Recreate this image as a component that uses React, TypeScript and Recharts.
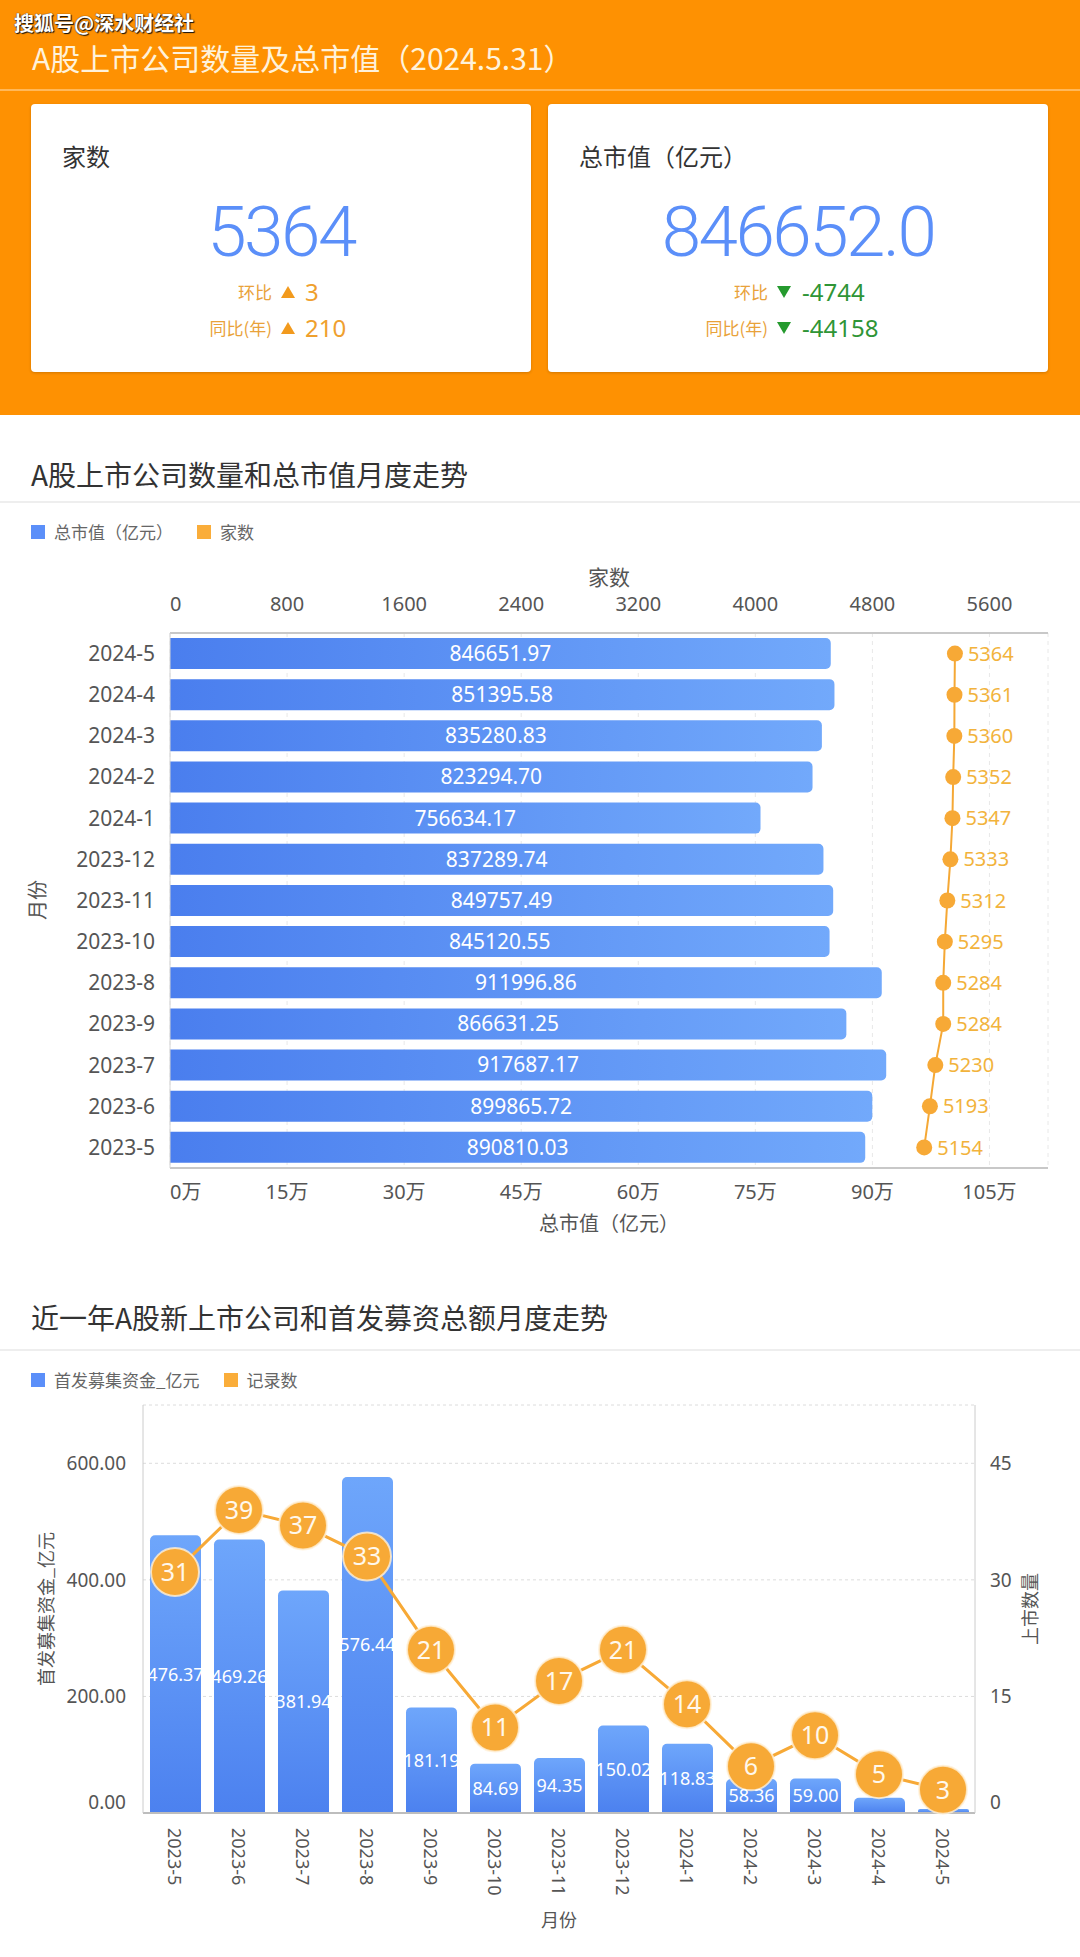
import React from 'react';
import { ComposedChart, Bar, Line, XAxis, YAxis, CartesianGrid, LabelList } from 'recharts';

// ---------- data ----------
const monthsA = ['2024-5', '2024-4', '2024-3', '2024-2', '2024-1', '2023-12', '2023-11', '2023-10', '2023-8', '2023-9', '2023-7', '2023-6', '2023-5'];
const marketCap = [846651.97, 851395.58, 835280.83, 823294.7, 756634.17, 837289.74, 849757.49, 845120.55, 911996.86, 866631.25, 917687.17, 899865.72, 890810.03];
const companyCount = [5364, 5361, 5360, 5352, 5347, 5333, 5312, 5295, 5284, 5284, 5230, 5193, 5154];
const countTicks = [0, 800, 1600, 2400, 3200, 4000, 4800, 5600];
const capTicks = [0, 150000, 300000, 450000, 600000, 750000, 900000, 1050000];

const monthsB = ['2023-5', '2023-6', '2023-7', '2023-8', '2023-9', '2023-10', '2023-11', '2023-12', '2024-1', '2024-2', '2024-3', '2024-4', '2024-5'];
const ipoAmount = [476.37, 469.26, 381.94, 576.44, 181.19, 84.69, 94.35, 150.02, 118.83, 58.36, 59.0, 26, 7];
const ipoCount = [31, 39, 37, 33, 21, 11, 17, 21, 14, 6, 10, 5, 3];
const amountTicks = [0, 200, 400, 600];
const ipoCountTicks = [0, 15, 30, 45];

const headerSource = '搜狐号@深水财经社';
const headerTitle = 'A股上市公司数量及总市值（2024.5.31）';
const cardTitles = ['家数', '总市值（亿元）'];
const cardValues = ['5364', '846652.0'];
const cardRowLabels = ['环比', '同比(年)'];
const cardLeftDeltas = ['3', '210'];
const cardRightDeltas = ['-4744', '-44158'];

const FONT = "'Noto Sans', 'Noto Sans CJK SC', sans-serif";
const CJK = "'Noto Sans CJK SC', 'Noto Sans', sans-serif";
const BLUE = '#5B8FF9';
const ORANGE = '#F7A936';

// ---------- helpers ----------
const Tri = ({ up, color }: { up: boolean; color: string }) => (
  <svg width={14} height={12} style={{ display: 'block' }}>
    {up ? <polygon points="7,0 14,12 0,12" fill={color} /> : <polygon points="0,0 14,0 7,12" fill={color} />}
  </svg>
);

function Card(props: any) {
  const { left, title, value, up, deltas, numColor, triColor, labelEnd, triX, numStart } = props;
  return (
    <div style={{ position: 'absolute', left, top: 104, width: 500, height: 268, background: '#fff', borderRadius: 4, boxShadow: '0 1px 3px rgba(0,0,0,0.18)' }}>
      <div style={{ position: 'absolute', left: 31, top: 34, lineHeight: '36px', fontSize: 24, color: '#333', fontFamily: CJK }}>{title}</div>
      <div style={{ position: 'absolute', left: 0, width: 500, top: 92, lineHeight: '72px', height: 72, textAlign: 'center', fontSize: 71, fontWeight: 300, letterSpacing: -2.5, color: BLUE, fontFamily: 'Roboto, sans-serif' }}>{value}</div>
      {cardRowLabels.map((lab, i) => {
        const cy = [188, 224][i];
        return (
          <React.Fragment key={lab}>
            <div style={{ position: 'absolute', right: 500 - labelEnd, top: cy - 13, lineHeight: '26px', fontSize: 17, color: '#E9A23A', fontFamily: CJK, whiteSpace: 'nowrap' }}>{lab}</div>
            <div style={{ position: 'absolute', left: triX - 7, top: cy - 6 }}><Tri up={up} color={triColor} /></div>
            <div style={{ position: 'absolute', left: numStart, top: cy - 15, lineHeight: '30px', fontSize: 24, color: numColor, fontFamily: FONT }}>{deltas[i]}</div>
          </React.Fragment>
        );
      })}
    </div>
  );
}

const AxisTitle = ({ x, y, text, rotate, size = 20 }: any) => (
  <div style={{ position: 'absolute', left: x, top: y, transform: `translate(-50%, -50%)${rotate ? ' rotate(-90deg)' : ''}`, whiteSpace: 'nowrap', fontSize: size, color: '#555', fontFamily: CJK, lineHeight: 1.2 }}>{text}</div>
);

const EdgeTick = (props: any) => {
  const { x, y, payload, index, top, fmt } = props;
  return (
    <text x={x} y={y} dy={top ? 0 : '0.71em'} textAnchor={index === 0 ? 'start' : 'middle'} fill="#555" fontSize={20} fontFamily={FONT}>
      {fmt ? fmt(payload.value) : payload.value}
    </text>
  );
};

const SideTick = (props: any) => {
  const { x, y, payload, anchor, fmt } = props;
  return (
    <text x={x} y={y} dy={payload.value === 0 ? -11 : 0} textAnchor={anchor} dominantBaseline="central" fill="#555" fontSize={19} fontFamily={FONT}>
      {fmt ? fmt(payload.value) : payload.value}
    </text>
  );
};

const RotTick = (props: any) => {
  const { x, y, payload } = props;
  return (
    <text x={x} y={y} transform={`rotate(90 ${x} ${y})`} textAnchor="start" dominantBaseline="central" fill="#555" fontSize={18} fontFamily={FONT}>
      {payload.value}
    </text>
  );
};

const Legend = ({ top, items }: any) => (
  <div style={{ position: 'absolute', left: 31, top: top - 12, height: 24, display: 'flex', alignItems: 'center', fontFamily: CJK, fontSize: 17, color: '#666' }}>
    {items.map((it: any) => (
      <div key={it.name} style={{ display: 'flex', alignItems: 'center', marginRight: 24 }}>
        <div style={{ width: 14, height: 14, background: it.color, marginRight: 9 }} />
        <span style={{ lineHeight: '24px' }}>{it.name}</span>
      </div>
    ))}
  </div>
);

export default function App() {
  const dataA = monthsA.map((m, i) => ({ month: m, cap: marketCap[i], count: companyCount[i] }));
  const dataB = monthsB.map((m, i) => ({ month: m, amount: ipoAmount[i], num: ipoCount[i] }));

  return (
    <div style={{ position: 'absolute', left: 0, top: 0, width: 1080, height: 1957, background: '#fff', overflow: 'hidden', fontFamily: CJK }}>
      {/* header panel */}
      <div style={{ position: 'absolute', left: 0, top: 0, width: 1080, height: 415, background: '#FE9102' }}>
        <div style={{ position: 'absolute', left: 14, top: 8, lineHeight: '30px', fontSize: 20, fontWeight: 700, color: '#fff', textShadow: '1px 1px 1px #111, 0 0 1px #111' }}>{headerSource}</div>
        <div style={{ position: 'absolute', left: 32, top: 36, lineHeight: '42px', fontSize: 30, color: '#FFF2DA' }}>{headerTitle}</div>
        <div style={{ position: 'absolute', left: 0, top: 89, width: 1080, height: 2, background: '#FFB85A' }} />
        <Card left={31} title={cardTitles[0]} value={cardValues[0]} up={true} deltas={cardLeftDeltas} numColor="#EFA02E" triColor="#F29A1D" labelEnd={241} triX={257} numStart={274} />
        <Card left={548} title={cardTitles[1]} value={cardValues[1]} up={false} deltas={cardRightDeltas} numColor="#2F9536" triColor="#259A2E" labelEnd={220} triX={236} numStart={254} />
      </div>

      {/* section 2 */}
      <div style={{ position: 'absolute', left: 31, top: 454, lineHeight: '40px', fontSize: 28, color: '#333' }}>A股上市公司数量和总市值月度走势</div>
      <div style={{ position: 'absolute', left: 0, top: 501, width: 1080, height: 2, background: '#eeeeee' }} />
      <Legend top={532} items={[{ name: '总市值（亿元）', color: BLUE }, { name: '家数', color: '#FAAD3A' }]} />

      <div style={{ position: 'absolute', left: 0, top: 540 }}>
        <ComposedChart width={1080} height={700} data={dataA} layout="vertical" margin={{ top: 63, right: 32, bottom: 42, left: 0 }}>
          <defs>
            <linearGradient id="gradH" x1="0" y1="0" x2="1" y2="0">
              <stop offset="0%" stopColor="#4A7EEE" />
              <stop offset="100%" stopColor="#72A9FB" />
            </linearGradient>
          </defs>
          <CartesianGrid xAxisId="cap" horizontal={false} stroke="#e8e8e8" strokeDasharray="4 4" />
          <XAxis xAxisId="cnt" type="number" orientation="top" domain={[0, 6000]} ticks={countTicks} interval={0} height={30} tickSize={0} tickMargin={22} tickLine={false} axisLine={{ stroke: '#c8c8c8', strokeWidth: 2 }} tick={<EdgeTick top />} />
          <XAxis xAxisId="cap" type="number" orientation="bottom" domain={[0, 1125000]} ticks={capTicks} interval={0} height={30} tickSize={0} tickMargin={17} tickLine={false} axisLine={{ stroke: '#c8c8c8', strokeWidth: 2 }} tick={<EdgeTick fmt={(v: number) => `${v / 10000}万`} />} />
          <YAxis type="category" dataKey="month" width={170} interval={0} tickSize={0} tickMargin={15} tickLine={false} axisLine={{ stroke: '#d4d4d4' }} tick={{ fill: '#555', fontSize: 21, fontFamily: FONT }} />
          <Bar xAxisId="cap" dataKey="cap" barSize={31} fill="url(#gradH)" radius={[0, 5, 5, 0]} isAnimationActive={false}>
            <LabelList dataKey="cap" position="center" fill="#fff" fontSize={21} fontFamily={FONT} formatter={(v: any) => Number(v).toFixed(2)} />
          </Bar>
          <Line xAxisId="cnt" dataKey="count" type="linear" stroke="#F5A835" strokeWidth={2} dot={{ r: 8, fill: ORANGE, stroke: 'none' }} activeDot={false} isAnimationActive={false}>
            <LabelList dataKey="count" position="right" offset={13} fill="#F2B33C" fontSize={20} fontFamily={FONT} />
          </Line>
        </ComposedChart>
      </div>
      <AxisTitle x={609} y={577} text="家数" size={21} />
      <AxisTitle x={609} y={1223} text="总市值（亿元）" />
      <AxisTitle x={37} y={900} text="月份" rotate />

      {/* section 3 */}
      <div style={{ position: 'absolute', left: 31, top: 1297, lineHeight: '40px', fontSize: 28, color: '#333' }}>近一年A股新上市公司和首发募资总额月度走势</div>
      <div style={{ position: 'absolute', left: 0, top: 1349, width: 1080, height: 2, background: '#eeeeee' }} />
      <Legend top={1380} items={[{ name: '首发募集资金_亿元', color: BLUE }, { name: '记录数', color: '#FAAD3A' }]} />

      <div style={{ position: 'absolute', left: 0, top: 1390 }}>
        <ComposedChart width={1080} height={560} data={dataB} margin={{ top: 15, right: 0, bottom: 27, left: 0 }}>
          <defs>
            <linearGradient id="gradV" x1="0" y1="0" x2="0" y2="1">
              <stop offset="0%" stopColor="#6EA6FB" />
              <stop offset="100%" stopColor="#4C81EF" />
            </linearGradient>
          </defs>
          <CartesianGrid yAxisId="left" vertical={false} stroke="#dcdcdc" strokeDasharray="3 3" />
          <XAxis dataKey="month" interval={0} height={110} tickSize={0} tickMargin={15} tickLine={false} axisLine={{ stroke: '#bdbdbd', strokeWidth: 2 }} tick={<RotTick />} />
          <YAxis yAxisId="left" orientation="left" domain={[0, 700]} ticks={amountTicks} interval={0} width={143} tickSize={0} tickMargin={17} tickLine={false} axisLine={{ stroke: '#cccccc' }} tick={<SideTick anchor="end" fmt={(v: number) => v.toFixed(2)} />} />
          <YAxis yAxisId="right" orientation="right" domain={[0, 52.5]} ticks={ipoCountTicks} interval={0} width={105} tickSize={0} tickMargin={15} tickLine={false} axisLine={{ stroke: '#cccccc' }} tick={<SideTick anchor="start" />} />
          <Bar yAxisId="left" dataKey="amount" barSize={51} fill="url(#gradV)" radius={[5, 5, 0, 0]} isAnimationActive={false}>
            <LabelList dataKey="amount" position="center" fill="#fff" fontSize={18} fontFamily={FONT} formatter={(v: any) => (Number(v) >= 50 ? Number(v).toFixed(2) : '')} />
          </Bar>
          <Line yAxisId="right" dataKey="num" type="linear" stroke={ORANGE} strokeWidth={3} dot={{ r: 24, fill: ORANGE, stroke: 'rgba(255,240,215,0.8)', strokeWidth: 2 }} activeDot={false} isAnimationActive={false}>
            <LabelList dataKey="num" position="center" fill="#FFF8EC" fontSize={25} fontFamily={FONT} />
          </Line>
        </ComposedChart>
      </div>
      <AxisTitle x={46} y={1609} text="首发募集资金_亿元" rotate size={18} />
      <AxisTitle x={1030} y={1609} text="上市数量" rotate size={18} />
      <AxisTitle x={559} y={1920} text="月份" size={18} />
    </div>
  );
}
